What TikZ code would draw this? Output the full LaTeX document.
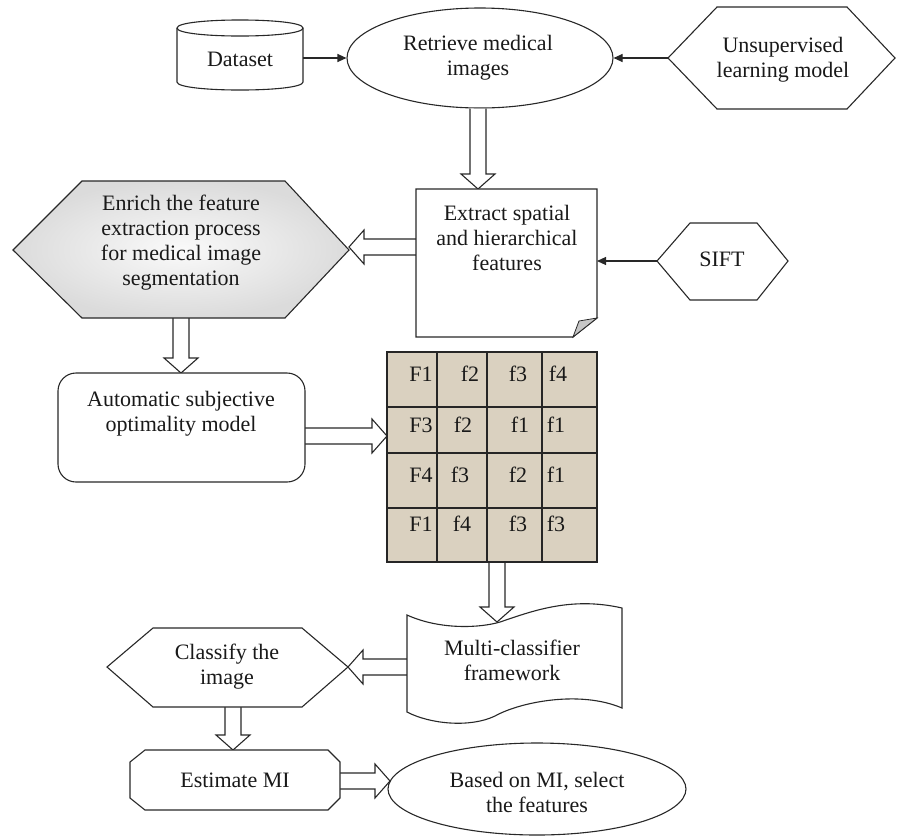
\documentclass[tikz,border=0pt]{standalone}
\usepackage{fontspec}
\setmainfont{Liberation Serif}
\usetikzlibrary{calc,arrows.meta,shapes.geometric}
\definecolor{gridfill}{RGB}{218,209,192}
\definecolor{lnc}{RGB}{40,40,40}
\def\bkw{8pt}
\def\bkh{17pt}
\def\bkl{15pt}
\newcommand\hdown[2]{\draw[hol] let \p1=(#1), \p2=(#2) in (\x1-\bkw,\y1) -- (\x1-\bkw,\y2+\bkl) -- (\x1-\bkh,\y2+\bkl) -- (\x1,\y2) -- (\x1+\bkh,\y2+\bkl) -- (\x1+\bkw,\y2+\bkl) -- (\x1+\bkw,\y1);}
\newcommand\hleft[2]{\draw[hol] let \p1=(#1), \p2=(#2) in (\x1,\y1+\bkw) -- (\x2+\bkl,\y1+\bkw) -- (\x2+\bkl,\y1+\bkh) -- (\x2,\y1) -- (\x2+\bkl,\y1-\bkh) -- (\x2+\bkl,\y1-\bkw) -- (\x1,\y1-\bkw);}
\newcommand\hright[2]{\draw[hol] let \p1=(#1), \p2=(#2) in (\x1,\y1+\bkw) -- (\x2-\bkl,\y1+\bkw) -- (\x2-\bkl,\y1+\bkh) -- (\x2,\y1) -- (\x2-\bkl,\y1-\bkh) -- (\x2-\bkl,\y1-\bkw) -- (\x1,\y1-\bkw);}
\begin{document}
\begin{tikzpicture}[x=1pt,y=-1pt,
  shp/.style={draw=lnc, line width=1.1pt, fill=white},
  hol/.style={draw=lnc, line width=1.1pt, fill=white},
  txt/.style={align=center, inner sep=0pt, font=\fontsize{22}{25}\selectfont, text=black!90},
  gtxt/.style={inner sep=0pt, font=\fontsize{22}{24}\selectfont, text=black!90},
  conn/.style={draw=lnc, line width=1.1pt, -{Triangle[length=9pt,width=8pt]}}]
\useasboundingbox (0,0) rectangle (897,839);

% ---------- coordinates ----------
\coordinate (dsR) at (303,58);
\coordinate (unL) at (668,58);
\coordinate (exT) at (478,189);
\coordinate (exL) at (416,247);
\coordinate (exR) at (597,261);
\coordinate (enR) at (349,247);
\coordinate (enB) at (181,318);
\coordinate (siL) at (657,261);
\coordinate (auT) at (181,373);
\coordinate (auR) at (305,436);
\coordinate (grL) at (387,436);
\coordinate (grB) at (497,562);
\coordinate (muT) at (497,622);
\coordinate (muL) at (407,667);
\coordinate (clR) at (348,667);
\coordinate (clB) at (233,707);
\coordinate (esT) at (233,750);
\coordinate (esR) at (340,781);
\coordinate (baL) at (390,781);

% ---------- ellipses (nodes) ----------
\node[draw=lnc, line width=1.1pt, ellipse, minimum width=266pt, minimum height=100pt, inner sep=0pt] (retr) at (480,58) {};
\node[draw=lnc, line width=1.1pt, ellipse, minimum width=298pt, minimum height=92pt, inner sep=0pt] (based) at (537,789) {};

% ---------- hollow arrows ----------
\hdown{retr.south -| exT}{exT}
\hleft{exL}{enR}
\hdown{enB}{auT}
\hright{auR}{grL}
\hdown{grB}{muT}
\hleft{muL}{clR}
\hdown{clB}{esT}
\hright{esR}{baL}

% ---------- Dataset cylinder ----------
\draw[shp] (177,28) -- (177,82) .. controls (177,92.7) and (303,92.7) .. (303,82) -- (303,28) .. controls (303,17.3) and (177,17.3) .. (177,28) -- cycle;
\draw[draw=lnc, line width=1.1pt] (177,28) .. controls (177,38.7) and (303,38.7) .. (303,28);
\node[txt] (dataset) at (240,59) {Dataset};
\node[txt] (retrtxt) at (478,58) {Retrieve medical\\images};

% ---------- Unsupervised hexagon ----------
\draw[shp] (668,58) -- (717,7) -- (847,7) -- (895,58) -- (847,109) -- (717,109) -- cycle;
\node[txt] (unsup) at (783,60) {Unsupervised\\learning model};

% ---------- Extract box ----------
\draw[shp] (416,189) -- (597,189) -- (597,318) -- (573,337) -- (416,337) -- cycle;
\draw[draw=lnc, line width=0.8pt, fill=gray!45] (597,318) -- (573,337) -- (579,321) -- cycle;
\node[txt] (extract) at (507,238) {Extract spatial\\and hierarchical\\features};

% ---------- Enrich hexagon ----------
\shade[inner color=gray!4, outer color=gray!28] (13,250) -- (82,181) -- (285,181) -- (349,250) -- (285,318) -- (82,318) -- cycle;
\draw[draw=lnc, line width=1.1pt] (13,250) -- (82,181) -- (285,181) -- (349,250) -- (285,318) -- (82,318) -- cycle;
\node[txt] (enrich) at (181,243) {Enrich the feature\\extraction process\\for medical image\\segmentation};

% ---------- SIFT hexagon ----------
\draw[shp] (657,261) -- (690,223) -- (757,223) -- (788,261) -- (757,300) -- (690,300) -- cycle;
\node[txt] (sift) at (722,259) {SIFT};

% ---------- Automatic box ----------
\draw[shp, rounded corners=18pt] (58,373) rectangle (305,482);
\node[txt] (auto) at (181,414) {Automatic subjective\\optimality model};

% ---------- Grid ----------
\fill[gridfill] (387,352) rectangle (597,562);
\draw[draw=black!85, line width=1.3pt] (387,352) rectangle (597,562);
\foreach \gx in {437,487,542} \draw[draw=black!85, line width=1.3pt] (\gx,352) -- (\gx,562);
\foreach \gy in {407,453,508} \draw[draw=black!85, line width=1.3pt] (387,\gy) -- (597,\gy);
\node[gtxt] (g11) at (421,374) {F1};
\node[gtxt] (g12) at (470,374) {f2};
\node[gtxt] (g13) at (518,374) {f3};
\node[gtxt] (g14) at (558,374) {f4};
\node[gtxt] (g21) at (421,425) {F3};
\node[gtxt] (g22) at (463,425) {f2};
\node[gtxt] (g23) at (520,425) {f1};
\node[gtxt] (g24) at (556,425) {f1};
\node[gtxt] (g31) at (421,475) {F4};
\node[gtxt] (g32) at (460,475) {f3};
\node[gtxt] (g33) at (518,475) {f2};
\node[gtxt] (g34) at (556,475) {f1};
\node[gtxt] (g41) at (421,524) {F1};
\node[gtxt] (g42) at (462,524) {f4};
\node[gtxt] (g43) at (518,524) {f3};
\node[gtxt] (g44) at (556,524) {f3};

% ---------- Multi-classifier document ----------
\draw[shp] (407,615) -- (407,712) .. controls (430,724) and (470,728) .. (495,716) .. controls (520,702) and (580,690) .. (622,708) -- (622,608) .. controls (570,596) and (530,612) .. (500,622) .. controls (480,628) and (440,630) .. (407,615) -- cycle;
\node[txt] (multi) at (512,660) {Multi-classifier\\framework};

% ---------- Classify hexagon ----------
\draw[shp] (107,667) -- (153,628) -- (302,628) -- (348,667) -- (302,707) -- (153,707) -- cycle;
\node[txt] (classify) at (227,667) {Classify the\\image};

% ---------- Estimate MI ----------
\draw[shp] (145,750) -- (328,750) -- (340,762) -- (340,798) -- (328,810) -- (145,810) -- (130,798) -- (130,762) -- cycle;
\node[txt] (estimate) at (235,780) {Estimate MI};

% ---------- Based ellipse text ----------
\node[txt] (basedtxt) at (537,792) {Based on MI, select\\the features};

% ---------- solid connectors ----------
\draw[conn] (dsR) -- (retr.west);
\draw[conn] (unL) -- (retr.east);
\draw[conn] (siL) -- (exR);
\end{tikzpicture}
\end{document}
